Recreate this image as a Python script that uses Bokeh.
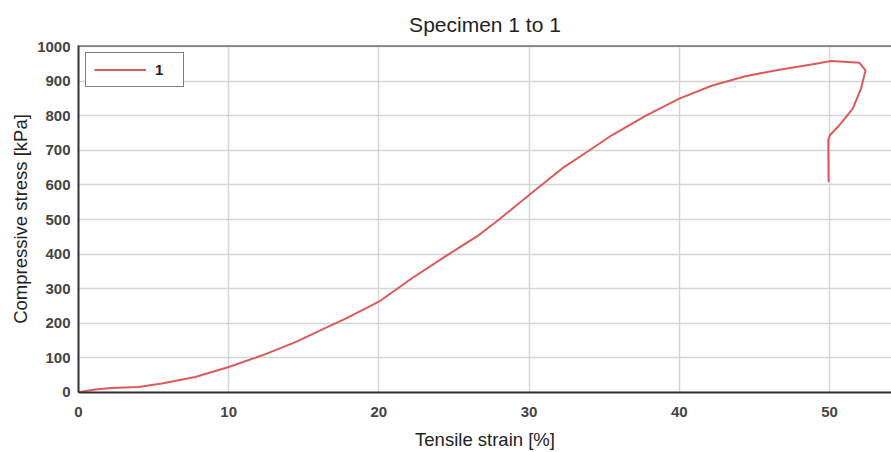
from bokeh.plotting import figure
from bokeh.models import Range1d, Span, Legend, LegendItem, ColumnDataSource
from bokeh.embed import file_html
from bokeh.resources import INLINE

# ---- data ----
strain = [0, 1.1, 2.2, 4.0, 5.55, 7.77, 10.0, 12.2, 14.4, 16.6, 17.75, 20.0,
          22.2, 24.66, 26.66, 28.0, 30.0, 32.2, 34.0, 35.5, 37.75, 40.0,
          42.2, 44.4, 46.66, 48.9, 50.1, 52.0, 52.4, 52.1, 51.55, 50.65,
          50.03, 49.92, 49.94]
stress = [0, 7.5, 12, 15, 25, 44, 73, 106, 144, 189, 212, 262,
          330, 400, 455, 500, 571, 648, 700, 744, 800, 850,
          888, 915, 934, 950, 959, 954, 932, 879, 821, 773,
          744, 730, 609]
x_ticks = [0, 10, 20, 30, 40, 50]
y_ticks = [0, 100, 200, 300, 400, 500, 600, 700, 800, 900, 1000]
series_label = "1"
title_text = "Specimen 1 to 1"
x_label = "Tensile strain [%]"
y_label = "Compressive stress [kPa]"

FONT = "Liberation Sans"

p = figure(width=891, height=452, output_backend="svg", toolbar_location=None,
           x_range=Range1d(0, 54.13), y_range=Range1d(-1, 1004),
           title=title_text,
           min_border_left=78, min_border_right=0,
           min_border_top=45, min_border_bottom=59)

p.title.align = "center"
p.title.standoff = 19
p.title.text_font = FONT
p.title.text_font_size = "21px"
p.title.text_font_style = "normal"
p.title.text_color = "#222222"

src = ColumnDataSource(dict(x=strain, y=stress))
r = p.line("x", "y", source=src, line_color="#dc5a5a", line_width=2,
           line_join="round")

for ax in (p.xaxis[0], p.yaxis[0]):
    ax.major_tick_line_color = None
    ax.minor_tick_line_color = None
    ax.axis_line_color = "#333333"
    ax.axis_line_width = 2
    ax.major_label_text_font = FONT
    ax.major_label_text_font_style = "bold"
    ax.major_label_text_font_size = "15px"
    ax.major_label_text_color = "#444444"
    ax.axis_label_text_font = FONT
    ax.axis_label_text_font_style = "normal"
    ax.axis_label_text_font_size = "18.5px"
    ax.axis_label_text_color = "#222222"

p.xaxis.ticker = x_ticks
p.yaxis.ticker = y_ticks
p.xaxis.axis_label = x_label
p.yaxis.axis_label = y_label
p.xaxis.major_label_standoff = 8
p.yaxis.major_label_standoff = 2
p.xaxis.axis_label_standoff = 9
p.yaxis.axis_label_standoff = 3

p.grid.grid_line_color = "#d5d5d5"
p.grid.grid_line_width = 1.5

p.outline_line_color = None
p.add_layout(Span(location=1004, dimension="width", line_color="#333333", line_width=2))

legend = Legend(items=[LegendItem(label=series_label, renderers=[r])],
                location="top_left")
legend.border_line_color = "black"
legend.border_line_width = 1.5
legend.padding = 8
legend.margin = 7
legend.glyph_width = 52
legend.glyph_height = 17
legend.label_height = 17
legend.label_standoff = 9
legend.label_text_font = FONT
legend.label_text_font_style = "bold"
legend.label_text_font_size = "15px"
legend.label_text_color = "#222222"
legend.background_fill_color = "white"
legend.background_fill_alpha = 1.0
p.add_layout(legend)

open("out.html", "w").write(file_html(p, INLINE))
